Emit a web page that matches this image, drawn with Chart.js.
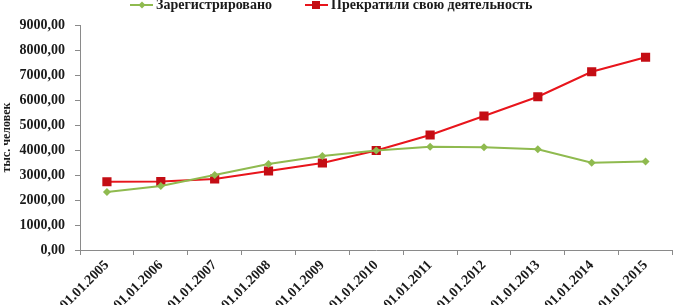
<!DOCTYPE html>
<html>
<head>
<meta charset="utf-8">
<script src="https://cdn.jsdelivr.net/npm/chart.js@4"></script>
<style>
  html, body { margin: 0; padding: 0; background: #fff; }
  #wrap { width: 679px; height: 305px; }
</style>
</head>
<body>
<div id="wrap"><canvas id="chartRegistro"></canvas></div>
<script>
// dados (tыс. человек)
const datas = ['01.01.2005', '01.01.2006', '01.01.2007', '01.01.2008', '01.01.2009', '01.01.2010',
               '01.01.2011', '01.01.2012', '01.01.2013', '01.01.2014', '01.01.2015'];
const registrados = [2320, 2560, 3000, 3440, 3760, 3980, 4130, 4110, 4030, 3490, 3540];
const encerrados = [2730, 2740, 2840, 3160, 3480, 3980, 4600, 5360, 6130, 7130, 7710];
const yMin = 0;
const yMax = 9000;
const yPasso = 1000;

const nomeRegistrados = 'Зарегистрировано';
const nomeEncerrados = 'Прекратили свою деятельность';
const tituloY = 'тыс. человек';

const fonte = 'Liberation Serif, Times New Roman, serif';
const verde = '#8fba4f';
const vermelho = '#e8151c';
const vermelhoEscuro = '#c40d14';

// legenda desenhada à mão, no estilo do Excel
const legendaPlugin = {
    id: 'legendaExcel',
    afterDraw(chart) {
        const ctx = chart.ctx;
        const y = 5;
        ctx.save();
        ctx.font = 'bold 14px ' + fonte;
        ctx.textBaseline = 'middle';
        ctx.textAlign = 'left';

        // item 1
        ctx.strokeStyle = verde;
        ctx.lineWidth = 2;
        ctx.beginPath();
        ctx.moveTo(130, y);
        ctx.lineTo(153, y);
        ctx.stroke();
        ctx.fillStyle = verde;
        ctx.beginPath();
        ctx.moveTo(142, y - 3.5);
        ctx.lineTo(145.5, y);
        ctx.lineTo(142, y + 3.5);
        ctx.lineTo(138.5, y);
        ctx.closePath();
        ctx.fill();
        ctx.fillStyle = '#1a1a1a';
        ctx.fillText(chart.data.datasets[0].label, 156, y);

        // item 2
        ctx.strokeStyle = vermelho;
        ctx.beginPath();
        ctx.moveTo(305, y);
        ctx.lineTo(328, y);
        ctx.stroke();
        ctx.fillStyle = vermelhoEscuro;
        ctx.fillRect(312, y - 4, 8, 8);
        ctx.fillStyle = '#1a1a1a';
        ctx.fillText(chart.data.datasets[1].label, 331, y);
        ctx.restore();
    }
};

const ctx = document.getElementById('chartRegistro').getContext('2d');

new Chart(ctx, {
    type: 'line',
    data: {
        labels: datas,
        datasets: [
            {
                label: nomeRegistrados,
                data: registrados,
                borderColor: verde,
                backgroundColor: verde,
                borderWidth: 2,
                pointStyle: 'rectRot',
                pointRadius: 4,
                pointBorderWidth: 0,
                tension: 0
            },
            {
                label: nomeEncerrados,
                data: encerrados,
                borderColor: vermelho,
                backgroundColor: vermelhoEscuro,
                borderWidth: 2,
                pointStyle: 'rect',
                pointRadius: 6.5,
                pointBorderWidth: 0,
                tension: 0
            }
        ]
    },
    options: {
        responsive: true,
        maintainAspectRatio: false,
        animation: false,
        layout: {
            padding: { top: 25, right: 1, left: 0, bottom: 0 }
        },
        plugins: {
            legend: { display: false },
            tooltip: { enabled: false }
        },
        scales: {
            x: {
                offset: true,
                grid: {
                    offset: true,
                    drawOnChartArea: false,
                    drawTicks: true,
                    tickLength: 5,
                    color: '#8a8a8a'
                },
                border: { display: true, color: '#8a8a8a', width: 1 },
                ticks: {
                    autoSkip: false,
                    minRotation: 45,
                    maxRotation: 45,
                    padding: 2,
                    color: '#1a1a1a',
                    font: { family: fonte, size: 14, weight: 'bold' }
                },
                afterFit(scale) {
                    scale.height = 55;
                }
            },
            y: {
                min: yMin,
                max: yMax,
                ticks: {
                    stepSize: yPasso,
                    padding: 10,
                    color: '#1a1a1a',
                    font: { family: fonte, size: 14, weight: 'bold' },
                    callback: function(valor) {
                        return valor.toFixed(2).replace('.', ',');
                    }
                },
                grid: {
                    drawOnChartArea: false,
                    drawTicks: true,
                    tickLength: 5,
                    color: '#8a8a8a'
                },
                border: { display: true, color: '#8a8a8a', width: 1 },
                title: {
                    display: true,
                    text: tituloY,
                    color: '#1a1a1a',
                    padding: { top: 0, bottom: 0 },
                    font: { family: fonte, size: 12, weight: 'bold' }
                },
                afterFit(scale) {
                    scale.width = 80;
                }
            }
        }
    },
    plugins: [legendaPlugin]
});
</script>
</body>
</html>
